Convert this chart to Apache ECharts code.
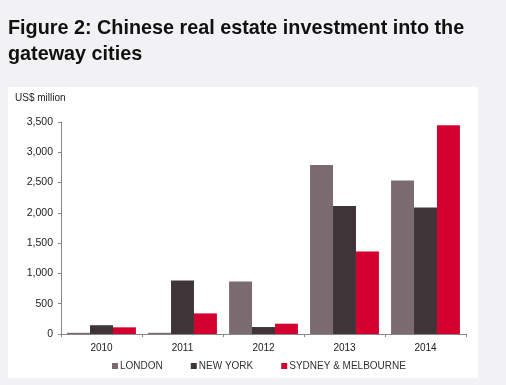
<!DOCTYPE html>
<html><head><meta charset="utf-8">
<script src="https://cdn.jsdelivr.net/npm/echarts@6/dist/echarts.min.js"></script>
<style>html,body{margin:0;padding:0;background:#f2f2f4;}#c{width:506px;height:385px;}</style>
</head><body><div id="c"></div>
<script>
var categories = ['2010','2011','2012','2013','2014'];
var london = [20, 20, 865, 2790, 2535];
var newYork = [145, 885, 115, 2115, 2090];
var sydneyMelbourne = [110, 340, 170, 1360, 3445];
var seriesNames = ['LONDON','NEW YORK','SYDNEY & MELBOURNE'];
var yMax = 3500, yStep = 500;

var chart = echarts.init(document.getElementById('c'));
var font = 'Liberation Sans, Arial, sans-serif';
chart.setOption({
  backgroundColor: '#f2f2f4',
  animation: false,
  title: {
    text: 'Figure 2: Chinese real estate investment into the\ngateway cities',
    left: 8, top: 16, padding: 0,
    textStyle: {fontFamily: font, fontSize: 19.8, fontWeight: 'bold', color: '#111', lineHeight: 25.5}
  },
  graphic: [{type:'rect', shape:{x:8,y:87,width:470,height:291}, style:{fill:'#fff'}, z:-10}],
  legend: {
    bottom: 9, left: 107, itemWidth: 6, itemHeight: 6, itemGap: 28, icon: 'rect',
    textStyle: {fontFamily: font, fontSize: 10, color: '#333', padding:[0,0,0,-3]},
    data: seriesNames
  },
  grid: {left: 61, right: 40, top: 122, bottom: 51},
  xAxis: {
    type: 'category', data: categories,
    axisLine: {lineStyle: {color: '#888'}},
    axisTick: {show: true, length: 3, lineStyle:{color:'#888'}},
    axisLabel: {fontFamily: font, fontSize: 10, color: '#222', margin: 9}
  },
  yAxis: {
    type: 'value', min: 0, max: yMax, interval: yStep,
    name: 'US$ million', nameLocation: 'end', nameGap: 19,
    nameTextStyle: {fontFamily: font, fontSize: 10, color: '#222', align: 'left', padding:[0,0,0,-46]},
    splitLine: {show: false},
    axisLine: {show: true, lineStyle: {color: '#888'}},
    axisTick: {show: true, inside: false, length: 3, lineStyle:{color:'#888'}},
    axisLabel: {fontFamily: font, fontSize: 10.5, color: '#222', margin: 8,
      formatter: function(v){return v.toLocaleString('en-US');}}
  },
  series: [
    {name: seriesNames[0], type: 'bar', data: london, itemStyle: {color: '#7b6a6f'}, barGap: '0%', barCategoryGap: '15%'},
    {name: seriesNames[1], type: 'bar', data: newYork, itemStyle: {color: '#3f3437'}},
    {name: seriesNames[2], type: 'bar', data: sydneyMelbourne, itemStyle: {color: '#d40030'}}
  ]
});
</script></body></html>
